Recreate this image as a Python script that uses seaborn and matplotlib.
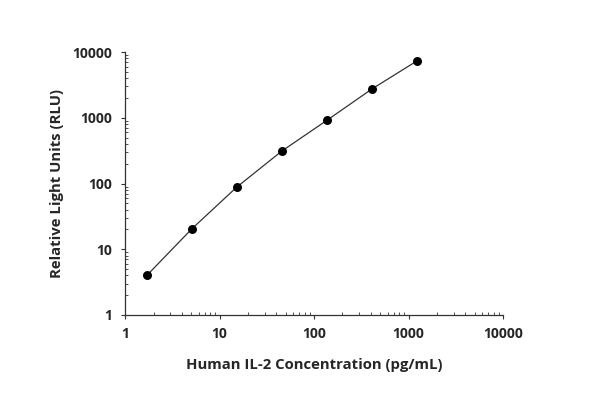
import matplotlib
matplotlib.use("Agg")
import matplotlib.pyplot as plt
import matplotlib.ticker as mticker
import numpy as np
import pandas as pd
import seaborn as sns

# IL-2 standard curve
concentration = [1.7, 5.1, 15.2, 45.7, 137, 412, 1235]
rlu = [4.0, 20.5, 88, 312, 915, 2750, 7350]

x_ticks = [1, 10, 100, 1000, 10000]
y_ticks = [1, 10, 100, 1000, 10000]
x_label = "Human IL-2 Concentration (pg/mL)"
y_label = "Relative Light Units (RLU)"

df = pd.DataFrame({"conc": concentration, "rlu": rlu})

sns.set_theme(style="ticks")
plt.rcParams["font.family"] = ["Open Sans", "DejaVu Sans"]

fig = plt.figure(figsize=(5.9, 4.0), dpi=100)
ax = fig.add_axes([0.212, 0.2125, 0.6405, 0.6575])

sns.lineplot(data=df, x="conc", y="rlu", color="#333333", linewidth=0.9, ax=ax)
sns.scatterplot(data=df, x="conc", y="rlu", color="black", s=42,
                edgecolor="black", linewidth=0, ax=ax, zorder=3)

ax.set_xscale("log")
ax.set_yscale("log")
ax.set_xlim(1, 10000)
ax.set_ylim(1, 10000)
ax.set_xticks(x_ticks)
ax.set_yticks(y_ticks)
ax.xaxis.set_major_formatter(mticker.FuncFormatter(lambda v, p: f"{v:g}"))
ax.yaxis.set_major_formatter(mticker.FuncFormatter(lambda v, p: f"{v:g}"))
ax.xaxis.set_minor_locator(mticker.LogLocator(base=10, subs=np.arange(2, 10)))
ax.yaxis.set_minor_locator(mticker.LogLocator(base=10, subs=np.arange(2, 10)))
ax.xaxis.set_minor_formatter(mticker.NullFormatter())
ax.yaxis.set_minor_formatter(mticker.NullFormatter())

ax.tick_params(which="major", direction="out", length=3, width=0.8,
               color="#333333", labelsize=10, pad=6)
ax.tick_params(which="minor", direction="in", length=2.5, width=0.6,
               color="#333333")
for lbl in ax.get_xticklabels() + ax.get_yticklabels():
    lbl.set_fontweight("bold")

sns.despine(ax=ax)
for side in ["left", "bottom"]:
    ax.spines[side].set_color("#333333")
    ax.spines[side].set_linewidth(0.9)

ax.set_xlabel(x_label, fontsize=10.7, fontweight="bold", labelpad=12)
ax.set_ylabel(y_label, fontsize=10.7, fontweight="bold", labelpad=6)

fig.savefig("out.png", dpi=100)
